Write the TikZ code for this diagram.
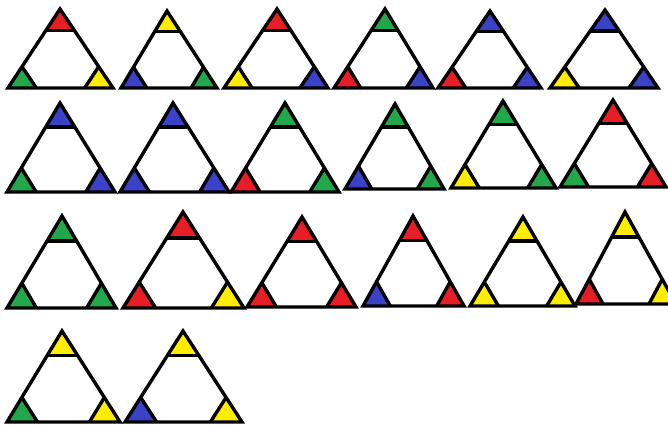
\documentclass[tikz,border=0pt]{standalone}
\usetikzlibrary{calc}
\definecolor{cR}{RGB}{232,30,38}
\definecolor{cG}{RGB}{34,168,74}
\definecolor{cB}{RGB}{58,66,200}
\definecolor{cY}{RGB}{255,236,0}
\tikzset{outline/.style={line width=3.4pt,line join=miter,black}}
% #1 ax, #2 ay, #3 lx, #4 rx, #5 base y, #6 top colour, #7 left colour, #8 right colour
\newcommand\drawtri[8]{%
  \coordinate (A) at (#1,#2);
  \coordinate (L) at (#3,#5);
  \coordinate (R) at (#4,#5);
  \coordinate (AL) at ($(A)!0.27!(L)$);
  \coordinate (AR) at ($(A)!0.27!(R)$);
  \coordinate (LA) at ($(L)!0.27!(A)$);
  \coordinate (LR) at ($(L)!0.27!(R)$);
  \coordinate (RA) at ($(R)!0.27!(A)$);
  \coordinate (RL) at ($(R)!0.27!(L)$);
  \fill[#6] (A) -- (AL) -- (AR) -- cycle;
  \fill[#7] (L) -- (LA) -- (LR) -- cycle;
  \fill[#8] (R) -- (RA) -- (RL) -- cycle;
  \draw[outline] (A) -- (L) -- (R) -- cycle;
  \draw[outline] (AL) -- (AR);
  \draw[outline] (LA) -- (LR);
  \draw[outline] (RA) -- (RL);
}
\begin{document}
\begin{tikzpicture}[x=1pt,y=-1pt]
\fill[white] (0,0) rectangle (668,427);
\useasboundingbox (0,0) rectangle (668,427);
\clip (0,0) rectangle (668,427);
% row 1
\drawtri{60}{9}{8}{113}{88}{cR}{cG}{cY}
\drawtri{167}{11}{121}{217}{88}{cY}{cB}{cG}
\drawtri{277}{9}{224}{328}{88}{cR}{cY}{cB}
\drawtri{385}{9}{334}{433}{88}{cG}{cR}{cB}
\drawtri{490}{11}{438}{541}{88}{cB}{cR}{cB}
\drawtri{605}{10}{550}{658}{88}{cB}{cY}{cB}
% row 2
\drawtri{60}{103}{7}{115}{192}{cB}{cG}{cB}
\drawtri{173}{103}{120}{229}{192}{cB}{cB}{cB}
\drawtri{285}{103}{231}{339}{192}{cG}{cR}{cG}
\drawtri{395}{104}{345}{444}{189}{cG}{cB}{cG}
\drawtri{503}{101}{451}{556}{188}{cG}{cY}{cG}
\drawtri{613}{100}{560}{666}{187}{cR}{cG}{cR}
% row 3
\drawtri{62}{216}{7}{116}{308}{cG}{cG}{cG}
\drawtri{183}{212}{123}{244}{308}{cR}{cR}{cY}
\drawtri{302}{217}{247}{356}{307}{cR}{cR}{cR}
\drawtri{413}{216}{363}{464}{306}{cR}{cB}{cR}
\drawtri{523}{217}{470}{575}{306}{cY}{cY}{cY}
\drawtri{625}{212}{576}{676}{304}{cY}{cR}{cY}
% row 4
\drawtri{62}{331}{7}{120}{422}{cY}{cG}{cY}
\drawtri{183}{331}{125}{242}{422}{cY}{cB}{cY}
\end{tikzpicture}
\end{document}
